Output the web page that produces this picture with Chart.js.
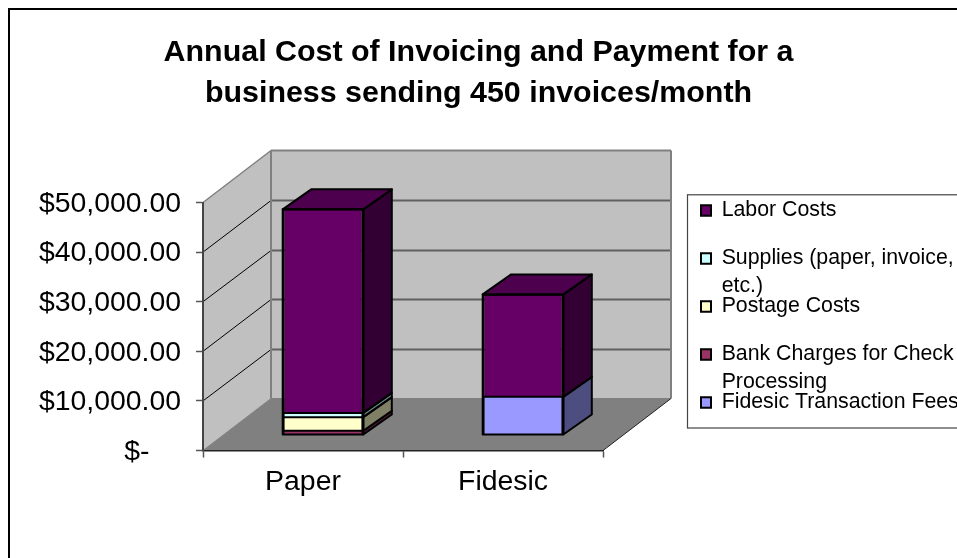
<!DOCTYPE html>
<html>
<head>
<meta charset="utf-8">
<title>Annual Cost of Invoicing and Payment</title>
<script src="https://cdn.jsdelivr.net/npm/chart.js@4"></script>
<style>
  html, body { margin: 0; padding: 0; background: #fff; overflow: hidden; }
  canvas { display: block; }
</style>
</head>
<body>
<canvas id="chart" width="957" height="558"></canvas>
<script>
// Chart contents
const categories = ['Paper', 'Fidesic'];
const titleLines = ['Annual Cost of Invoicing and Payment for a', 'business sending 450 invoices/month'];

const fidesicFees = [0, 7700];
const bankCharges = [850, 0];
const postageCosts = [2750, 0];
const suppliesCosts = [850, 0];
const laborCosts = [41050, 20650];

const seriesNames = ['Fidesic Transaction Fees', 'Bank Charges for Check Processing', 'Postage Costs', 'Supplies (paper, invoice, etc.)', 'Labor Costs'];
const legendLines = [
  ['Fidesic Transaction Fees', ''],
  ['Bank Charges for Check', 'Processing'],
  ['Postage Costs', ''],
  ['Supplies (paper, invoice,', 'etc.)'],
  ['Labor Costs', '']
];
const seriesValues = [fidesicFees, bankCharges, postageCosts, suppliesCosts, laborCosts];
const frontColors = ['#9999ff', '#993366', '#ffffcc', '#ccffff', '#660066'];
const sideColors  = ['#4d4d80', '#4d1933', '#808066', '#668080', '#330033'];
const topColors   = ['#7373bf', '#73264d', '#bfbf99', '#99bfbf', '#4d004d'];
const axisTicks = [0, 10000, 20000, 30000, 40000, 50000];

// Oblique projection used for the box: wall offset, bar offset into the box, bar depth
const WALL = { dx: 68, dy: -52 };
const BAR_SHIFT = { dx: 20, dy: -15.5 };
const BAR_DEPTH = { dx: 28.5, dy: -20 };

const FONT = '"Liberation Sans", Arial, sans-serif';

function polygon(ctx, pts, fill, stroke, width) {
  ctx.beginPath();
  pts.forEach((p, i) => (i ? ctx.lineTo(p[0], p[1]) : ctx.moveTo(p[0], p[1])));
  ctx.closePath();
  if (fill) { ctx.fillStyle = fill; ctx.fill(); }
  if (stroke) { ctx.strokeStyle = stroke; ctx.lineWidth = width; ctx.stroke(); }
}

function line(ctx, x0, y0, x1, y1, color, width) {
  ctx.beginPath();
  ctx.moveTo(x0, y0);
  ctx.lineTo(x1, y1);
  ctx.strokeStyle = color;
  ctx.lineWidth = width;
  ctx.stroke();
}

// Page frame, legend frame and the three faces of the plot box
const boxPlugin = {
  id: 'box',
  beforeDraw(chart) {
    const { ctx, chartArea: a, scales: { y } } = chart;
    const { dx, dy } = WALL;
    ctx.save();
    ctx.fillStyle = '#fff';
    ctx.fillRect(0, 0, chart.width, chart.height);
    ctx.strokeStyle = '#000';
    ctx.lineWidth = 2;
    ctx.strokeRect(9, 9, 1200, 900);

    ctx.strokeStyle = '#444';
    ctx.lineWidth = 1.2;
    ctx.strokeRect(687.5, 194.8, 500, 233.2);

    const y0 = y.getPixelForValue(0);
    const yTop = y.getPixelForValue(50000);
    polygon(ctx, [[a.left, yTop], [a.left + dx, yTop + dy], [a.left + dx, y0 + dy], [a.left, y0]], '#c0c0c0');
    polygon(ctx, [[a.left + dx, yTop + dy], [a.right + dx, yTop + dy], [a.right + dx, y0 + dy], [a.left + dx, y0 + dy]], '#c0c0c0');
    polygon(ctx, [[a.left, y0], [a.left + dx, y0 + dy], [a.right + dx, y0 + dy], [a.right, y0]], '#808080');

    axisTicks.forEach(v => {
      const py = y.getPixelForValue(v);
      if (v > 0 && v < 50000) {
        const back = Math.round(py + dy) + 0.5;
        line(ctx, a.left + dx, back, a.right + dx, back, '#606060', 2);
        line(ctx, a.left, py, a.left + dx, back, '#000', 1);
      }
    });
    line(ctx, a.left + dx, yTop + dy, a.right + dx, yTop + dy, '#808080', 2);
    line(ctx, a.left + dx, y0 + dy, a.left + dx, yTop + dy, '#808080', 2);
    line(ctx, a.right + dx, y0 + dy, a.right + dx, yTop + dy, '#808080', 2);
    line(ctx, a.left, yTop, a.left + dx, yTop + dy, '#808080', 1.5);
    line(ctx, a.left + dx, y0 + dy, a.right + dx, y0 + dy, '#808080', 1);
    line(ctx, a.right, y0, a.right + dx, y0 + dy, '#222', 1);
    line(ctx, a.left, y0, a.left + dx, y0 + dy, '#808080', 1);
    ctx.restore();
  },
  // Bars stand inside the box: shift them and add side and top faces
  beforeDatasetsDraw(chart) {
    const { ctx } = chart;
    ctx.save();
    ctx.translate(BAR_SHIFT.dx, BAR_SHIFT.dy);
    ctx.lineJoin = 'round';
    const { dx, dy } = BAR_DEPTH;
    categories.forEach((_, c) => {
      seriesValues.forEach((_, s) => {
        const el = chart.getDatasetMeta(s).data[c];
        if (Math.abs(el.base - el.y) < 0.5) return;
        const r = el.x + el.width / 2;
        polygon(ctx, [[r, el.base], [r + dx, el.base + dy], [r + dx, el.y + dy], [r, el.y]], sideColors[s], '#000', 2);
      });
    });
  },
  afterDatasetsDraw(chart) {
    const { ctx } = chart;
    const { dx, dy } = BAR_DEPTH;
    categories.forEach((_, c) => {
      let topEl = null;
      let baseEl = null;
      seriesValues.forEach((_, s) => {
        const el = chart.getDatasetMeta(s).data[c];
        if (Math.abs(el.base - el.y) < 0.5) return;
        if (!baseEl) baseEl = el;
        topEl = el;
        // Seam between stacked segments
        line(ctx, el.x - el.width / 2, el.y, el.x + el.width / 2, el.y, '#000', 2);
      });
      const l = topEl.x - topEl.width / 2;
      const r = topEl.x + topEl.width / 2;
      polygon(ctx, [[l, topEl.y], [l + dx, topEl.y + dy], [r + dx, topEl.y + dy], [r, topEl.y]], topColors[seriesValues.length - 1], '#000', 2);
      polygon(ctx, [[l, baseEl.base], [r, baseEl.base], [r, topEl.y], [l, topEl.y]], null, '#000', 2);
    });
    ctx.restore();
  },
  // Title is centred on the page; the legend hangs over the page edge and
  // tighter-than-text row spacing needs it drawn without its own clip box
  afterLayout(chart) {
    const t = chart.titleBlock;
    t.left = 0;
    t.right = chart.width;
    const lg = chart.legend;
    const pad = lg.options.labels.padding;
    lg.left = 701 - pad;
    lg.right = 1200;
    lg.top = 199.9 - pad;
    lg.bottom = 900;
    lg.draw = function () { this._draw(); };
  }
};

new Chart(document.getElementById('chart'), {
  type: 'bar',
  plugins: [boxPlugin],
  data: {
    labels: categories,
    datasets: seriesValues.map((values, i) => ({
      label: seriesNames[i],
      data: values,
      backgroundColor: frontColors[i],
      borderColor: '#000',
      borderWidth: { top: 0, bottom: 0, left: 2, right: 2 },
      borderSkipped: false,
      categoryPercentage: 1,
      barPercentage: 0.403,
      clip: false
    }))
  },
  options: {
    responsive: false,
    animation: false,
    devicePixelRatio: 1,
    layout: { padding: { left: 20, right: 154, top: 0, bottom: 0 } },
    plugins: {
      title: {
        display: true,
        text: titleLines,
        color: '#000',
        font: { family: FONT, size: 30.4, weight: 'bold', lineHeight: 41 / 30.4 },
        padding: { top: 32.5, bottom: 88 }
      },
      legend: {
        display: true,
        position: 'right',
        align: 'start',
        reverse: true,
        maxWidth: 200,
        labels: {
          color: '#000',
          boxWidth: 10,
          boxHeight: 10.5,
          padding: -8,
          font: { family: FONT, size: 21.3, lineHeight: 28 / 21.3 },
          generateLabels: chart => chart.data.datasets.map((d, i) => ({
            text: legendLines[i],
            fillStyle: frontColors[i],
            strokeStyle: '#000',
            lineWidth: 2,
            fontColor: '#000',
            datasetIndex: i
          }))
        }
      },
      tooltip: { enabled: false }
    },
    scales: {
      x: {
        stacked: true,
        afterFit: scale => { scale.height = 107.5; },
        grid: { drawOnChartArea: false, color: '#555', tickColor: '#555', tickLength: 7, tickWidth: 1.5 },
        border: { color: '#222', width: 1.5 },
        ticks: { color: '#000', padding: 7.5, font: { family: FONT, size: 28.4 }, maxRotation: 0 }
      },
      y: {
        stacked: true,
        min: 0,
        max: 50000,
        afterFit: scale => { scale.width = 183; },
        afterBuildTicks: scale => { scale.ticks = axisTicks.map(value => ({ value })); },
        grid: { drawOnChartArea: false, color: '#555', tickColor: '#555', tickLength: 7, tickWidth: 1.5 },
        border: { color: '#444', width: 2 },
        ticks: {
          color: '#000',
          padding: 15,
          labelOffset: 1.5,
          font: { family: FONT, size: 28.4 },
          callback: v => v === 0 ? '$-    ' : '$' + v.toLocaleString('en-US', { minimumFractionDigits: 2, maximumFractionDigits: 2 })
        }
      }
    }
  }
});
</script>
</body>
</html>
